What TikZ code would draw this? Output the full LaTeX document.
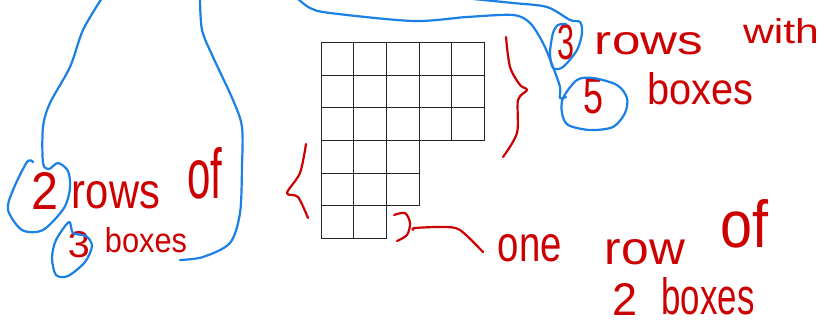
\documentclass[tikz,border=0pt]{standalone}
\usepackage{fontspec}
\setmainfont{Liberation Sans}
\usepackage{graphicx}
\usepackage{xcolor}
\usepackage{tikz}
\usetikzlibrary{positioning}
\definecolor{inkred}{HTML}{CC0000}
\definecolor{inkblue}{HTML}{1A80E6}
\newcommand{\hw}[3]{\resizebox{#1pt}{#2pt}{#3}}
\tikzset{
  cellbox/.style={draw=black!85,line width=0.9pt,minimum size=32.6pt,inner sep=0pt},
  note/.style={text=inkred,inner sep=0pt},
  redpen/.style={inkred,line width=2.2pt,line cap=round,line join=round},
  bluepen/.style={inkblue,line width=2.2pt,line cap=round,line join=round}
}

\begin{document}
\begin{tikzpicture}[x=1pt,y=-1pt]
    \useasboundingbox (0,0) rectangle (824,326);
    \clip (0,0) rectangle (824,326);
    % the boxes, row by row
    \foreach \r/\n in {1/5,2/5,3/5,4/3,5/3,6/2}
      \foreach \c in {1,...,\n}
        \node[cellbox] (cell-\r-\c) at ({321.3+32.6*(\c-0.5)},{42.7+32.6*(\r-0.5)}) {};
    % handwritten notes
    \node[note] (twoA) at (45,191) {\hw{27}{37}{2}};
    \node[note] (rowsA) at (116,195) {\hw{88}{27}{rows}};
    \node[note] (ofA) at (205,173) {\hw{35}{51}{of}};
    \node[note] (threeA) at (79,245) {\hw{22}{26}{3}};
    \node[note] (boxesA) at (146,240) {\hw{82}{25}{boxes}};
    \node[note] (threeB) at (566,42) {\hw{17}{35}{3}};
    \node[note] (rowsB) at (649,44) {\hw{108}{22}{rows}};
    \node[note] (withB) at (781,31) {\hw{76}{25}{with}};
    \node[note] (fiveB) at (593,96) {\hw{20}{35}{5}};
    \node[note] (boxesB) at (700,89) {\hw{106}{32}{boxes}};
    \node[note] (oneC) at (530,248) {\hw{64}{27}{one}};
    \node[note] (rowC) at (645,252) {\hw{80}{25}{row}};
    \node[note] (ofC) at (744,224) {\hw{48}{48}{of}};
    \node[note] (twoC) at (625,299) {\hw{25}{32}{2}};
    \node[note] (boxesC) at (708,296) {\hw{93}{37}{boxes}};
    % red braces
    \draw[redpen] plot[smooth] coordinates {(506,37) (510,67) (520,85) (527,90) (518,100) (517,133) (503,157)};
    \draw[redpen] plot[smooth] coordinates {(306,144) (300,173) (287,193) (298,197) (308,218)};
    \draw[redpen] plot[smooth] coordinates {(394,215) (405,213) (410,223) (407,235) (397,241)};
    \draw[redpen] plot[smooth] coordinates {(413,230) (415,228) (443,227) (460,230) (483,252)};
    % blue loop round 2 rows of 3 boxes
    \draw[bluepen] plot[smooth] coordinates {(102,-2) (83,30) (70,67) (50,103) (43,127) (43,163) (49,169)
      (58,163) (68,171) (70,188) (64,208) (43,230) (22,230) (8,210) (13,190) (27,162) (33,162)};
    \draw[bluepen] plot[smooth] coordinates {(200,-2) (202,30) (213,57) (233,100) (242,127) (242,167)
      (240,213) (230,243) (203,257) (180,260)};
    \draw[bluepen] plot[smooth cycle] coordinates {(69,222) (73,233) (86,236) (92,246) (85,262) (68,276) (56,275) (52,258) (56,240)};
    % blue loops round 3 rows with 5 boxes
    \draw[bluepen] plot[smooth] coordinates {(297,-2) (310,8) (330,13) (413,21) (467,17) (513,15) (530,23)
      (543,43) (553,67) (560,87) (560,98) (566,97)};
    \draw[bluepen] plot[smooth cycle] coordinates {(577,80) (593,78) (617,85) (627,98) (625,113) (613,127) (590,130) (568,125) (562,113) (563,98)};
    \draw[bluepen] plot[smooth] coordinates {(473,-1) (513,3) (547,7) (570,20) (580,22) (582,33) (577,50)
      (563,67) (553,68) (550,53) (553,33) (558,25) (566,24)};
\end{tikzpicture}
\end{document}
